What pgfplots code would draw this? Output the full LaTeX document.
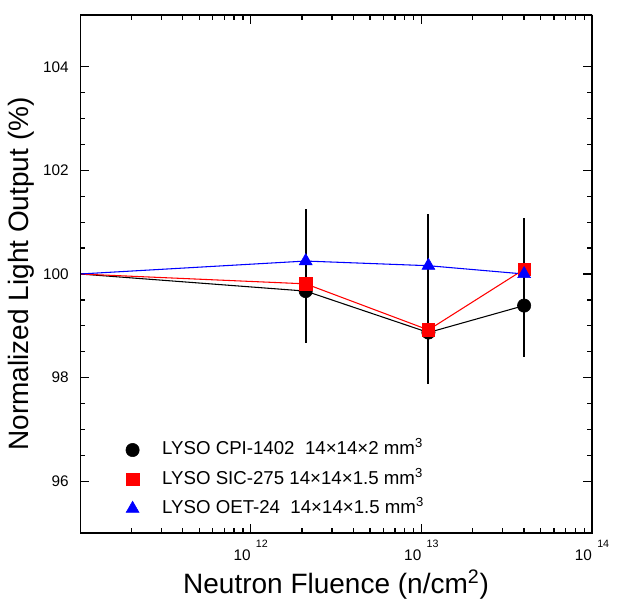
\documentclass[border=0pt]{standalone}
\usepackage{fontspec}
\setmainfont{Liberation Sans}
\usepackage{pgfplots}
\pgfplotsset{compat=1.18}

\newcommand{\tenpow}[1]{10\hspace{4pt}\raisebox{0.85em}{\fontsize{8}{9}\selectfont #1}}

\begin{document}
\begin{tikzpicture}
\begin{axis}[
    scale only axis,
    width=384pt, height=388.5pt,
    xmode=log,
    xmin=1e11, xmax=1e14,
    ymin=95, ymax=105,
    xtick={1e12,1e13,1e14},
    xticklabels={\tenpow{12},\tenpow{13},\tenpow{14}},
    minor xtick={2e11,3e11,4e11,5e11,6e11,7e11,8e11,9e11,
                 2e12,3e12,4e12,5e12,6e12,7e12,8e12,9e12,
                 2e13,3e13,4e13,5e13,6e13,7e13,8e13,9e13},
    ytick={96,98,100,102,104},
    minor y tick num=3,
    tick align=inside,
    major tick length=6.75pt,
    minor tick length=3.75pt,
    every tick/.style={black, line width=1pt},
    tick label style={font=\fontsize{11.5}{13}\selectfont},
    /pgf/number format/assume math mode=true,
    yticklabel style={xshift=-5pt},
    xticklabel style={yshift=-2pt},
    xlabel={Neutron Fluence (n/cm\textsuperscript{2})},
    ylabel={Normalized Light Output (\%)},
    label style={font=\fontsize{21}{24}\selectfont},
    legend cell align=left,
    legend style={at={(rel axis cs:0.086,0.18)}, anchor=north west,
        draw=none, fill=none, inner sep=0pt, row sep=7pt,
        nodes={inner sep=1pt, text height=10pt, text depth=3pt},
        font=\fontsize{14}{16}\selectfont},
    legend image code/.code={\draw[#1] plot coordinates {(0pt,0pt)}; \path (-6pt,0pt) (21pt,0pt);},
]
% connecting lines
\addplot[black, line width=0.8pt, forget plot] coordinates {
    (1e11,100) (2.1e12,99.67) (1.1e13,98.87) (4e13,99.39)};
\addplot[red, line width=0.8pt, forget plot] coordinates {
    (1e11,100) (2.1e12,99.81) (1.1e13,98.92) (4e13,100.09)};
\addplot[blue, line width=0.8pt, forget plot] coordinates {
    (1e11,100) (2.1e12,100.25) (1.1e13,100.16) (4e13,100.00)};
% error bars (+-1 %)
\pgfplotsset{ebar/.style={only marks, mark=none, forget plot,
    error bars/.cd, y dir=both, y fixed=1, error mark=none,
    error bar style={black, line width=1.4pt}}}
\addplot[ebar] coordinates {(2.1e12,99.67) (1.1e13,98.87) (4e13,99.39)};
\addplot[ebar] coordinates {(2.1e12,99.81) (1.1e13,98.92) (4e13,100.09)};
\addplot[ebar] coordinates {(2.1e12,100.25) (1.1e13,100.16) (4e13,100.00)};
% markers
\addplot[only marks, mark=*, mark size=5pt, black] coordinates {
    (2.1e12,99.67) (1.1e13,98.87) (4e13,99.39)};
\addlegendentry{LYSO CPI-1402\ \ 14×14×2 mm\textsuperscript{3}}
\addplot[only marks, mark=square*, mark size=4.7pt, red] coordinates {
    (2.1e12,99.81) (1.1e13,98.92) (4e13,100.09)};
\addlegendentry{LYSO SIC-275 14×14×1.5 mm\textsuperscript{3}}
\addplot[only marks, mark=triangle*, mark size=5.6pt, blue] coordinates {
    (2.1e12,100.25) (1.1e13,100.16) (4e13,100.00)};
\addlegendentry{LYSO OET-24\ \ 14×14×1.5 mm\textsuperscript{3}}
% heavy frame
\draw[line width=1.5pt] (rel axis cs:0,0) rectangle (rel axis cs:1,1);
\end{axis}
\pgfresetboundingbox
\path ([xshift=-60pt,yshift=-49.5pt]current axis.south west)
    rectangle ([xshift=24.75pt,yshift=11.25pt]current axis.north east);
\end{tikzpicture}
\end{document}
